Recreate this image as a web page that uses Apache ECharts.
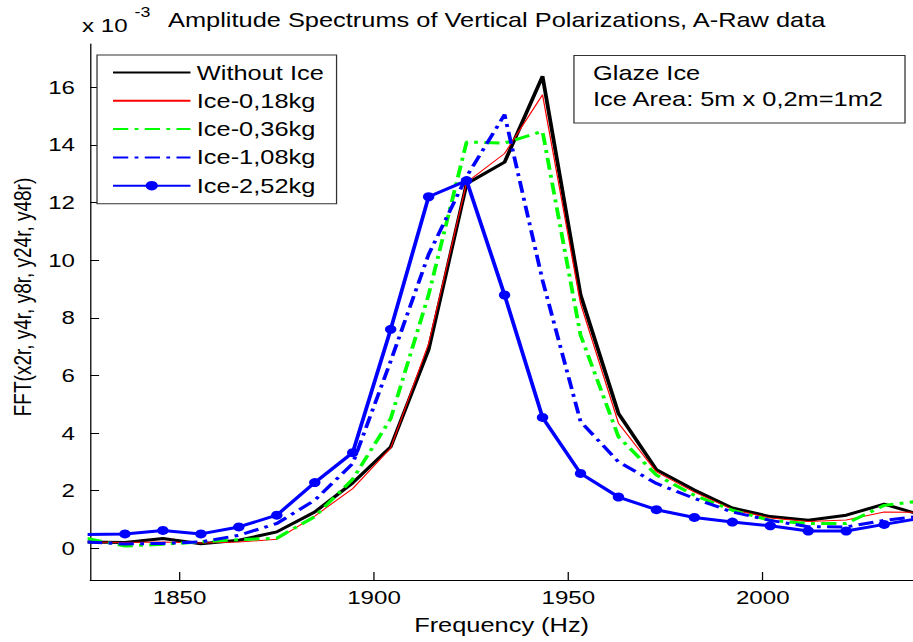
<!DOCTYPE html>
<html><head><meta charset="utf-8">
<script src="https://cdn.jsdelivr.net/npm/echarts@6/dist/echarts.min.js"></script>
<style>
html,body{margin:0;padding:0;background:#fff;overflow:hidden}
#c{width:719px;height:642px;transform:scaleX(1.26982);transform-origin:0 0}
</style>
</head><body><div id="c"></div>
<script>
// Frequency bins (Hz)
const frequencies = [1826.17, 1835.94, 1845.70, 1855.47, 1865.23, 1875.00, 1884.77, 1894.53, 1904.30, 1914.06, 1923.83, 1933.59, 1943.36, 1953.13, 1962.89, 1972.66, 1982.42, 1992.19, 2001.95, 2011.72, 2021.48, 2031.25, 2041.02];
// Amplitudes (x 10^-3)
const withoutIce = [0.22, 0.20, 0.34, 0.16, 0.28, 0.57, 1.26, 2.27, 3.52, 6.9, 12.65, 13.4, 16.38, 8.8, 4.68, 2.73, 2.02, 1.40, 1.10, 0.97, 1.15, 1.53, 1.15];
const ice018 = [0.22, 0.20, 0.22, 0.18, 0.22, 0.31, 1.12, 2.07, 3.48, 7.1, 12.7, 13.7, 15.74, 8.5, 4.34, 2.65, 1.95, 1.35, 1.05, 0.93, 0.98, 1.26, 1.25];
const ice036 = [0.34, 0.08, 0.14, 0.22, 0.30, 0.35, 1.10, 2.40, 4.50, 8.8, 14.1, 14.06, 14.47, 7.4, 3.87, 2.54, 1.84, 1.32, 0.97, 0.86, 0.86, 1.49, 1.65];
const ice108 = [0.22, 0.15, 0.17, 0.22, 0.45, 0.86, 1.67, 2.94, 6.5, 10.2, 12.9, 15.05, 9.3, 4.4, 3.0, 2.25, 1.73, 1.26, 0.97, 0.75, 0.74, 0.97, 1.12];
const ice252 = [0.48, 0.50, 0.62, 0.50, 0.74, 1.15, 2.28, 3.32, 7.6, 12.2, 12.76, 8.79, 4.54, 2.6, 1.78, 1.34, 1.07, 0.91, 0.78, 0.60, 0.60, 0.83, 1.05];

const seriesNames = ['Without Ice', 'Ice-0,18kg', 'Ice-0,36kg', 'Ice-1,08kg', 'Ice-2,52kg'];
const xTicks = [1850, 1900, 1950, 2000];
const yTicks = [0, 2, 4, 6, 8, 10, 12, 14, 16];

const FONT = "'Liberation Sans', Arial, Helvetica, sans-serif";
const pairs = arr => frequencies.map((f, i) => [f, arr[i]]);
const dashDot = [12, 5, 3, 5];
const noMarker = {color: 'rgba(0,0,0,0)', borderWidth: 0, opacity: 0};

const chart = echarts.init(document.getElementById('c'), null, {renderer: 'svg'});
chart.setOption({
  animation: false,
  backgroundColor: '#fff',
  grid: {left: 66.5, right: 0, top: 44, bottom: 62, containLabel: false},
  xAxis: {
    type: 'value', min: 1827, max: 2038.66,
    name: 'Frequency (Hz)', nameLocation: 'middle', nameGap: 35,
    nameTextStyle: {fontFamily: FONT, fontSize: 20, color: '#000'},
    axisLine: {show: true, onZero: false, lineStyle: {color: '#000', width: 1}},
    axisTick: {show: true, inside: true, length: 8, customValues: xTicks, lineStyle: {color: '#000'}},
    axisLabel: {show: true, customValues: xTicks, margin: 8, fontFamily: FONT, fontSize: 19, color: '#000', formatter: v => String(v)},
    splitLine: {show: false}
  },
  yAxis: {
    type: 'value', min: -1.1, max: 17.5,
    name: 'FFT(x2r, y4r, y8r, y24r, y48r)', nameLocation: 'middle', nameGap: 43,
    nameTextStyle: {fontFamily: FONT, fontSize: 19, color: '#000', padding: [0, 0, 0, 30]},
    axisLine: {show: true, onZero: false, lineStyle: {color: '#000', width: 1}},
    axisTick: {show: true, inside: true, length: 7, customValues: yTicks, lineStyle: {color: '#000'}},
    axisLabel: {show: true, customValues: yTicks, margin: 12, fontFamily: FONT, fontSize: 19, color: '#000', formatter: v => String(v)},
    splitLine: {show: false}
  },
  legend: {
    orient: 'vertical', left: 76.4, top: 55,
    data: [
      {name: seriesNames[0], itemStyle: noMarker},
      {name: seriesNames[1], itemStyle: noMarker},
      {name: seriesNames[2], itemStyle: noMarker},
      {name: seriesNames[3], itemStyle: noMarker},
      {name: seriesNames[4]}
    ],
    itemWidth: 61, itemHeight: 12, itemGap: 8.3,
    padding: [7.5, 10, 8, 11.6],
    borderColor: '#333', borderWidth: 1, backgroundColor: '#fff',
    textStyle: {fontFamily: FONT, fontSize: 20, color: '#000', lineHeight: 20}
  },
  graphic: [
    {type: 'text', x: 64.6, y: 25, style: {text: 'x 10', fontFamily: FONT, fontSize: 19, fill: '#000', verticalAlign: 'middle'}},
    {type: 'text', x: 106, y: 12, style: {text: '-3', fontFamily: FONT, fontSize: 14, fill: '#000', verticalAlign: 'middle'}},
    {type: 'text', x: 132.3, y: 20, style: {text: 'Amplitude Spectrums of Vertical Polarizations, A-Raw data', fontFamily: FONT, fontSize: 20, fill: '#000', verticalAlign: 'middle'}},
    {type: 'rect', shape: {x: 452, y: 55.5, width: 260.7, height: 67.5}, style: {fill: '#fff', stroke: '#333', lineWidth: 1}, z: 10},
    {type: 'text', x: 467, y: 73, z: 11, style: {text: 'Glaze Ice', fontFamily: FONT, fontSize: 20, fill: '#000', verticalAlign: 'middle'}},
    {type: 'text', x: 467, y: 99, z: 11, style: {text: 'Ice Area: 5m x 0,2m=1m2', fontFamily: FONT, fontSize: 20, fill: '#000', verticalAlign: 'middle'}}
  ],
  series: [
    {name: seriesNames[0], type: 'line', data: pairs(withoutIce), symbol: 'none', lineStyle: {color: '#000', width: 3}, itemStyle: {color: '#000'}},
    {name: seriesNames[1], type: 'line', data: pairs(ice018), symbol: 'none', lineStyle: {color: '#ff0000', width: 1}, itemStyle: {color: '#ff0000'}},
    {name: seriesNames[2], type: 'line', data: pairs(ice036), symbol: 'none', lineStyle: {color: '#00ff00', width: 3, type: dashDot}, itemStyle: {color: '#00ff00'}},
    {name: seriesNames[3], type: 'line', data: pairs(ice108), symbol: 'none', lineStyle: {color: '#0000ff', width: 3, type: dashDot}, itemStyle: {color: '#0000ff'}},
    {name: seriesNames[4], type: 'line', data: pairs(ice252), symbol: 'circle', symbolSize: 9, showSymbol: true, lineStyle: {color: '#0000ff', width: 3}, itemStyle: {color: '#0000ff'}}
  ]
});
</script>
</body></html>
